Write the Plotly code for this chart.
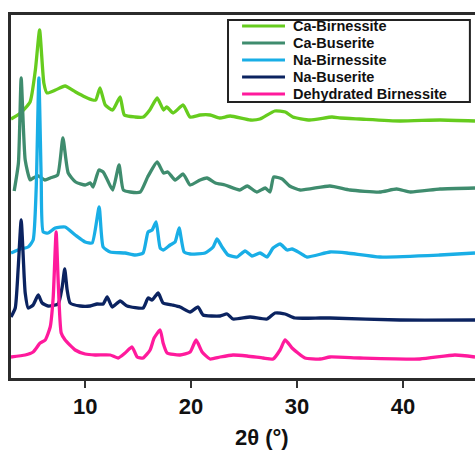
import plotly.graph_objects as go

# Stacked XRD patterns (intensity in arbitrary units, already offset for stacking)
ca_birnessite_x = [3.0, 3.9, 4.8, 5.3, 5.7, 6.1, 6.4, 7.2, 8.1, 9.1, 10.0, 10.7, 11.0, 11.4, 11.9, 12.6,
                   13.3, 13.7, 14.7, 15.5, 16.1, 16.8, 17.4, 17.7, 18.3, 19.25, 19.9, 20.85, 21.8, 22.7,
                   23.7, 25.6, 26.5, 27.9, 28.9, 29.6, 31.2, 33.3, 34.1, 35.9, 39.7, 43.5, 46.8]
ca_birnessite_y = [259, 265, 276, 308, 348, 295, 285, 288, 292, 286, 281, 278, 278, 290, 273, 268,
                   281, 263, 261, 261, 268, 280, 268, 271, 265, 273, 261, 263, 263, 260,
                   262, 258, 259, 267, 266, 261, 258, 261, 260, 259, 257, 258, 257]

ca_buserite_x = [3.3, 3.7, 3.96, 4.34, 4.81, 5.1, 5.6, 6.2, 6.7, 7.4, 7.9, 8.4, 9.1, 10.0, 10.5, 10.75,
                 11.3, 11.7, 12.1, 12.6, 13.2, 13.6, 14.25, 15.2, 15.9, 16.8, 17.4, 17.8, 18.5, 19.25,
                 19.9, 20.85, 21.5, 22.3, 23.2, 24.6, 25.3, 26.2, 27.0, 27.45, 27.8, 28.6, 29.3, 30.3,
                 33.1, 35.0, 37.8, 39.4, 40.7, 43.5, 46.8]
ca_buserite_y = [187, 215, 300, 218, 198, 200, 202, 198, 200, 203, 240, 205, 196, 193, 195, 191,
                 208, 206, 198, 188, 213, 188, 186, 186, 201, 216, 205, 206, 198, 204,
                 193, 198, 200, 195, 193, 188, 192, 186, 190, 186, 201, 199, 192, 188,
                 192, 188, 186, 189, 186, 189, 190]

na_birnessite_x = [3.0, 3.87, 4.62, 5.09, 5.38, 5.63, 5.85, 6.04, 6.51, 7.17, 8.11, 9.06, 10.0, 10.66,
                   11.32, 11.70, 12.36, 13.77, 14.72, 15.47, 15.94, 16.32, 16.70, 17.08, 17.36, 18.02,
                   18.49, 18.87, 19.34, 19.91, 21.32, 22.08, 22.45, 22.92, 23.49, 24.34, 25.09, 25.75,
                   26.51, 27.17, 27.74, 28.40, 29.06, 29.53, 30.28, 30.94, 33.11, 34.72, 37.83, 43.49, 46.8]
na_birnessite_y = [125, 129, 131, 138, 190, 300, 200, 146, 145, 150, 151, 143, 136, 135,
                   171, 131, 126, 125, 123, 125, 146, 148, 156, 130, 128, 133,
                   136, 150, 126, 124, 125, 131, 139, 131, 123, 121, 127, 122,
                   125, 121, 130, 134, 128, 129, 125, 121, 126, 125, 121, 123, 125]

na_buserite_x = [3.0, 3.40, 3.68, 3.96, 4.25, 4.34, 4.62, 5.09, 5.57, 5.94, 6.51, 7.45, 7.83, 8.07, 8.30,
                 8.58, 9.53, 10.47, 11.13, 11.70, 12.08, 12.55, 13.30, 13.96, 15.47, 15.94, 16.32,
                 16.89, 17.36, 18.21, 18.96, 19.91, 20.66, 21.13, 22.74, 23.40, 23.96, 25.57, 27.17,
                 27.92, 28.87, 29.81, 32.17, 33.11, 39.72, 46.8]
na_buserite_y = [61, 70, 110, 158, 100, 85, 70, 73, 83, 75, 72, 74, 91, 109, 88,
                 75, 72, 72, 74, 74, 81, 71, 77, 72, 70, 80, 78,
                 85, 75, 73, 71, 66, 71, 63, 62, 64, 59, 61, 59,
                 65, 64, 60, 60, 60, 58, 58]

dehydrated_x = [3.0, 4.34, 5.09, 5.75, 6.23, 6.70, 6.98, 7.26, 7.45, 7.74, 8.11, 9.06, 10.0, 10.94, 12.36,
                13.11, 13.77, 14.43, 14.91, 15.47, 16.13, 16.51, 17.08, 17.36, 17.74, 18.96, 19.91,
                20.47, 21.04, 21.79, 22.74, 23.96, 25.28, 26.79, 27.74, 28.40, 28.87, 29.53, 30.09,
                30.75, 32.17, 33.11, 35.94, 41.6, 44.9, 46.8]
dehydrated_y = [21, 23, 26, 35, 38, 51, 80, 146, 98, 45, 38, 28, 24, 23, 23,
                20, 25, 31, 21, 20, 28, 40, 48, 35, 25, 23, 26,
                38, 26, 19, 21, 23, 22, 20, 19, 28, 38, 30, 25,
                20, 19, 21, 20, 19, 23, 21]

series_names = ["Ca-Birnessite", "Ca-Buserite", "Na-Birnessite", "Na-Buserite", "Dehydrated Birnessite"]
series_x = [ca_birnessite_x, ca_buserite_x, na_birnessite_x, na_buserite_x, dehydrated_x]
series_y = [ca_birnessite_y, ca_buserite_y, na_birnessite_y, na_buserite_y, dehydrated_y]
series_colors = ["#66cc1e", "#3f8c6e", "#19aee6", "#0b2360", "#ff1a9c"]

x_ticks = [10, 20, 30, 40]

font_family = "Liberation Sans, Arial, sans-serif"

fig = go.Figure()
for name, xs, ys, col in zip(series_names, series_x, series_y, series_colors):
    fig.add_trace(go.Scatter(x=xs, y=ys, mode="lines", name=name, showlegend=False,
                             line=dict(color=col, width=3.3, shape="spline", smoothing=0.5)))

# Boxed legend (paper coordinates)
shapes = [dict(type="rect", xref="paper", yref="paper", x0=0.4677, x1=0.989, y0=0.760, y1=0.986,
               line=dict(color="#222", width=2), fillcolor="white", layer="above")]
annotations = []
leg_top, leg_step = 0.9697, 0.0468
for i, (name, col) in enumerate(zip(series_names, series_colors)):
    yy = leg_top - i * leg_step
    shapes.append(dict(type="line", xref="paper", yref="paper", x0=0.498, x1=0.5905, y0=yy, y1=yy,
                       line=dict(color=col, width=3), layer="above"))
    annotations.append(dict(text=name, x=0.606, y=yy, xref="paper", yref="paper",
                            xanchor="left", yanchor="middle", showarrow=False, borderpad=0,
                            font=dict(family=font_family, size=14.5, color="#111", weight="bold")))

annotations.append(dict(text="2θ (°)", x=0.541, y=-0.165, xref="paper", yref="paper",
                        xanchor="center", yanchor="middle", showarrow=False,
                        font=dict(family=font_family, size=22, color="#111", weight="bold")))

fig.update_layout(
    width=475, height=450,
    margin=dict(l=11, r=0, t=15, b=72),
    paper_bgcolor="white", plot_bgcolor="white",
    showlegend=False,
    shapes=shapes,
    annotations=annotations,
)
fig.update_xaxes(range=[3.0, 46.8], tickvals=x_ticks, ticks="outside", ticklen=7, tickwidth=2,
                 tickcolor="#333", showline=True, linecolor="#2b2b2b", linewidth=3, mirror=True,
                 showgrid=False, zeroline=False,
                 tickfont=dict(family=font_family, size=22, color="#111", weight="bold"))
fig.update_yaxes(range=[0, 363], showticklabels=False, ticks="", showline=True, linecolor="#2b2b2b",
                 linewidth=3, mirror=False, showgrid=False, zeroline=False)

fig.write_html("out.html", config={"displayModeBar": False},
               post_script="document.body.style.margin='0';document.body.style.overflow='hidden';")
